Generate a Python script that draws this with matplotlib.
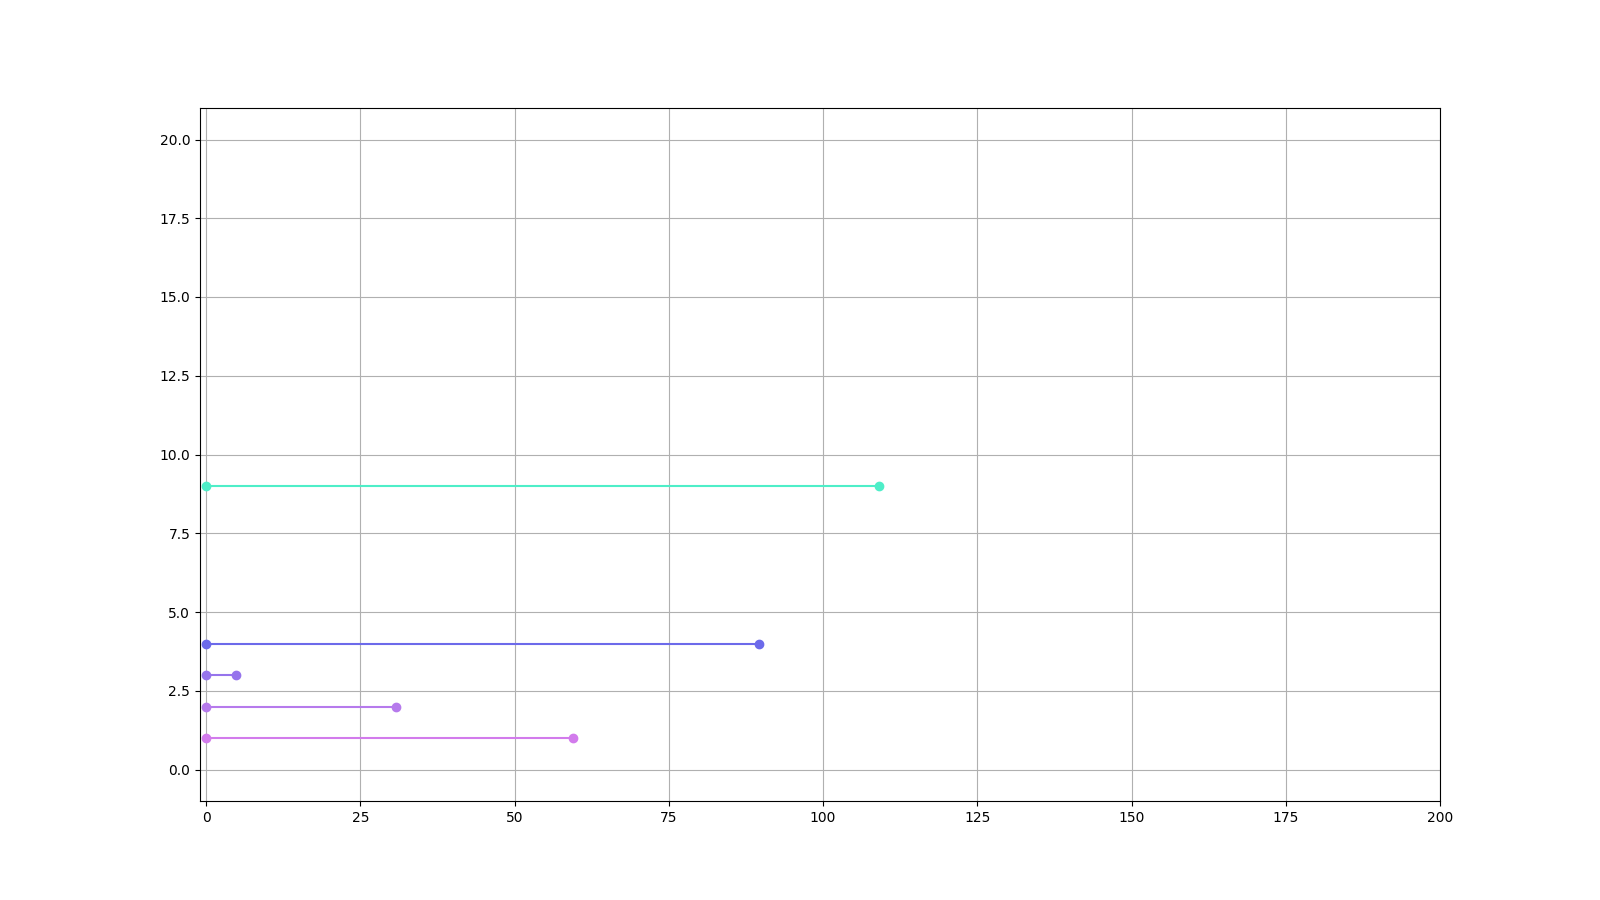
import matplotlib
matplotlib.use("Agg")
import matplotlib.pyplot as plt

# horizontalne linije od 0 do vrednosti
pozicije = [1, 2, 3, 4, 9]
vrednosti = [59.4, 30.8, 4.9, 89.6, 109.1]
boje = ["#d27bec", "#b67aec", "#9674ec", "#6c6aea", "#4eeec8"]

fig, ax = plt.subplots(figsize=(16, 9), dpi=100)

for y, v, c in zip(pozicije, vrednosti, boje):
    ax.plot([0, v], [y, y], color=c, marker="o", linewidth=1.5, markersize=6)

ax.set_xlim(-1, 200)
ax.set_ylim(-1, 21)
ax.grid(True)

plt.savefig("out.png")
